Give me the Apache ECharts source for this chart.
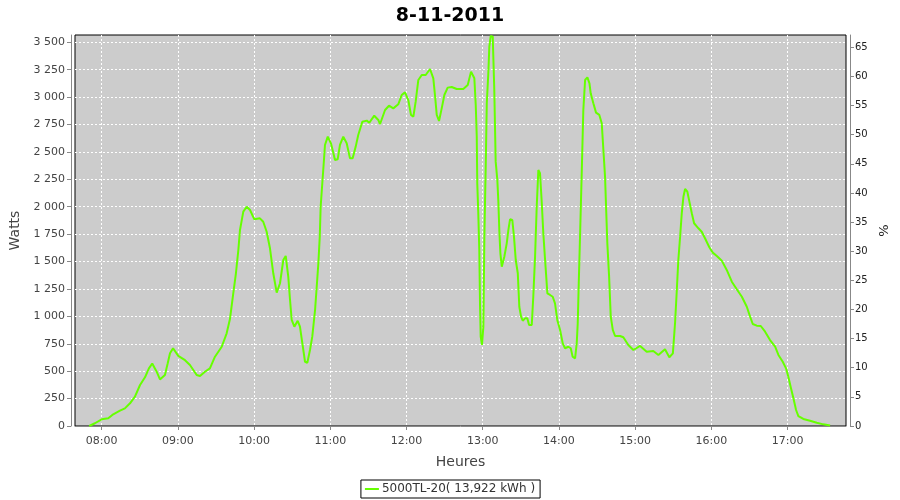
<!DOCTYPE html>
<html>
<head>
<meta charset="utf-8">
<script src="https://cdn.jsdelivr.net/npm/echarts@6/dist/echarts.min.js"></script>
<style>html,body{margin:0;padding:0;background:#fff}#c{width:900px;height:500px}</style>
</head>
<body>
<div id="c"></div>
<script>
var title = "8-11-2011";
var seriesName = "5000TL-20( 13,922 kWh )";
// minutes since midnight
var times = [470.2,474.7,480,485.2,489.1,494.4,498.3,502.3,506.2,510.2,514.1,517.2,519.8,523.3,525.9,529.8,532.0,533.8,536.2,540.3,545.6,549.5,554.8,557.4,561.3,565.2,569.2,574.5,578.4,581.0,583.6,585.7,587.6,588.9,591.5,594.2,596.8,600.2,604.6,607.2,609.9,612.5,615.1,617.8,620.4,623.0,624.9,626.9,628.3,629.6,631.7,634.3,636.1,638.0,640.1,641.9,644.0,645.8,648.0,649.5,650.6,651.7,652.4,653.7,655.0,655.8,658.0,660.5,663.7,665.8,667.6,670.2,672.9,675.5,677.6,680.0,682.0,685.2,688.7,690.7,694.6,697.8,699.1,703.1,706.2,709.6,713.5,716.2,718.8,721.4,723.5,725.4,727.2,729.3,732.0,735.1,738.5,741.1,742.4,743.8,745.6,747.7,749.8,752.4,755.6,759.5,764.7,768.2,770.8,772.1,773.4,774.5,775.3,775.7,776.5,777.3,777.9,778.4,779.4,780.5,781.3,782.4,783.2,784.4,785.2,786.3,787.9,788.3,789.1,790.2,791.5,792.3,793.1,793.9,795.0,796.2,797.0,798.9,800.2,801.5,803.3,804.6,806.0,807.6,808.8,810.2,811.5,813.3,815.1,816.5,818.6,819.8,821.2,822.5,823.8,825.1,826.5,827.7,829.1,830.9,833.0,835.1,836.9,838.7,840.9,843.0,844.8,847.4,849.3,850.8,852.7,854.0,854.8,855.6,856.6,858.0,859.2,860.6,862.4,864.0,865.0,867.1,869.2,871.8,873.7,875.0,876.3,877.1,878.1,879.5,880.8,882.4,884.2,888.1,890.7,894.6,898.6,903.9,909.1,914.3,918.3,923.5,926.9,929.7,931.4,932.8,934.0,935.4,936.7,938.0,939.3,941.1,942.7,944.6,946.4,949.8,952.4,955.0,958.4,961.1,964.3,968.2,972.1,976.1,980.0,984.0,987.9,990.5,992.6,995.7,998.9,1002.3,1006.2,1010.2,1012.8,1016.2,1018.8,1020.6,1022.5,1024.6,1026.7,1028.5,1032.4,1037.7,1043.0,1048.2,1053.5];
var watts = [0,25,61,70,107,140,161,207,267,374,444,526,570,495,425,465,572,663,709,640,600,556,465,456,495,526,632,723,845,975,1210,1393,1605,1788,1955,2000,1970,1885,1894,1863,1772,1621,1393,1216,1302,1514,1551,1362,1149,967,906,960,906,754,586,577,693,815,1058,1302,1484,1727,2000,2214,2426,2563,2639,2578,2426,2432,2563,2639,2578,2441,2441,2548,2654,2775,2785,2766,2830,2791,2752,2882,2921,2897,2934,3019,3043,2973,2837,2821,2958,3156,3201,3201,3256,3171,3019,2837,2782,2897,3019,3086,3092,3074,3074,3110,3232,3247,3171,2928,2639,2214,1940,1605,1088,815,739,906,1727,2396,2943,3217,3460,3557,3551,3384,3065,2411,2244,2046,1772,1575,1453,1438,1544,1666,1788,1885,1879,1727,1514,1393,1088,997,960,982,982,921,921,1179,1544,2000,2335,2305,2031,1758,1514,1210,1195,1179,1119,967,876,754,709,723,709,632,617,754,937,1302,1727,2335,2882,3156,3180,3126,3034,2943,2858,2837,2761,2517,2274,2000,1666,1362,997,876,821,821,809,739,693,730,678,684,648,700,627,663,937,1240,1514,1727,1940,2091,2162,2137,2046,1940,1849,1803,1772,1712,1630,1581,1551,1508,1423,1316,1247,1179,1088,997,930,915,912,860,784,723,648,586,526,450,353,253,146,91,64,48,30,15,5];
var xTicks = [480,540,600,660,720,780,840,900,960,1020];
var wattTicks = [0,250,500,750,1000,1250,1500,1750,2000,2250,2500,2750,3000,3250,3500];
var pctTicks = [0,5,10,15,20,25,30,35,40,45,50,55,60,65];

var data = times.map(function(t,i){return [t, watts[i]];});
function pad2(n){return (n<10?'0':'')+n;}
function fmtW(v){ if(v>=1000){var r=v%1000; return Math.floor(v/1000)+' '+(r<10?'00'+r:r<100?'0'+r:r);} return String(v);}
var font = 'DejaVu Sans';
var chart = echarts.init(document.getElementById('c'), null, {renderer:'canvas'});
chart.setOption({
  animation:false,
  backgroundColor:'#ffffff',
  title:{text:title,left:'center',top:2,textStyle:{fontFamily:font,fontSize:19,fontWeight:'bold',color:'#000'}},
  grid:{left:75,top:35,right:54,bottom:74,show:true,backgroundColor:'#cccccc',borderColor:'#000',borderWidth:1},
  legend:{bottom:2,left:'center',data:[{name:seriesName,icon:'rect'}],itemWidth:14,itemHeight:2,itemGap:4,
    borderColor:'#000',borderWidth:1,padding:[3,5,3,4],textStyle:{fontFamily:font,fontSize:12,color:'#333',padding:[0,0,0,-2]}},
  xAxis:{type:'value',min:459,max:1066,offset:4,name:'Heures',nameLocation:'middle',nameGap:25,
    nameTextStyle:{fontFamily:font,fontSize:14,color:'#444'},
    axisLine:{show:true,lineStyle:{color:'#888'}},
    axisTick:{show:true,length:4,lineStyle:{color:'#888'},customValues:xTicks},
    axisLabel:{customValues:xTicks,fontFamily:font,fontSize:11,color:'#444',margin:6,
      formatter:function(v){return pad2(Math.floor(v/60))+':'+pad2(Math.round(v%60));}},
    splitLine:{show:true,lineStyle:{color:'#ffffff',type:[2,2],width:1}}},
  yAxis:[
    {type:'value',min:0,max:3566,offset:4,name:'Watts',nameLocation:'middle',nameGap:42,
      nameTextStyle:{fontFamily:font,fontSize:14,color:'#444'},
      axisLine:{show:true,lineStyle:{color:'#888'}},
      axisTick:{show:true,length:4,lineStyle:{color:'#888'},customValues:wattTicks},
      axisLabel:{customValues:wattTicks,fontFamily:font,fontSize:11,color:'#444',margin:6,formatter:fmtW},
      splitLine:{show:true,lineStyle:{color:'#ffffff',type:[2,2],width:1}}},
    {type:'value',min:0,max:67.1,offset:4,position:'right',name:'%',nameLocation:'middle',nameGap:23,nameRotate:90,
      nameTextStyle:{fontFamily:font,fontSize:13,color:'#222'},
      axisLine:{show:true,lineStyle:{color:'#888'}},
      axisTick:{show:true,length:4,lineStyle:{color:'#888'},customValues:pctTicks},
      axisLabel:{customValues:pctTicks,fontFamily:font,fontSize:10,color:'#222',margin:5},
      splitLine:{show:false}}
  ],
  series:[{name:seriesName,type:'line',data:data,symbol:'none',showSymbol:false,
    lineStyle:{color:'#66ff00',width:2},itemStyle:{color:'#66ff00'}}]
});
</script>
</body>
</html>
